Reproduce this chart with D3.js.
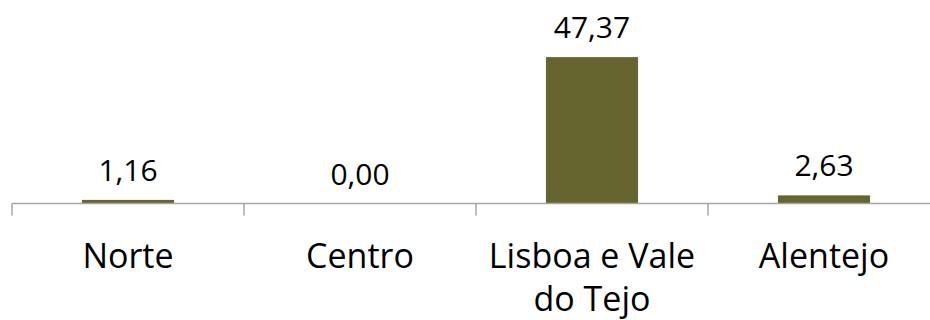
<!DOCTYPE html>
<html>
<head>
<meta charset="utf-8">
<script src="https://cdn.jsdelivr.net/npm/d3@7"></script>
<style>
  html, body { margin: 0; padding: 0; background: #fff; }
  svg { display: block; }
  text { font-family: "Open Sans", "Noto Sans", sans-serif; fill: #000; }
</style>
</head>
<body>
<svg id="chart" width="930" height="320"></svg>
<script>
// Regional values (percent)
const regions = ["Norte", "Centro", "Lisboa e Vale do Tejo", "Alentejo"];
const regionLines = [["Norte"], ["Centro"], ["Lisboa e Vale", "do Tejo"], ["Alentejo"]];
const values = [1.16, 0.00, 47.37, 2.63];
const valueLabels = ["1,16", "0,00", "47,37", "2,63"];

const svg = d3.select("#chart");
const left = 12, right = 940, baseY = 203.5;

const x = d3.scaleBand()
  .domain(regions)
  .range([left, right])
  .paddingInner(0.603)
  .paddingOuter(0.3015);

const y = d3.scaleLinear().domain([0, 50]).range([baseY, 49]);

// bars
svg.selectAll("rect.bar")
  .data(values)
  .join("rect")
  .attr("class", "bar")
  .attr("x", (d, i) => x(regions[i]))
  .attr("width", x.bandwidth())
  .attr("y", d => y(d))
  .attr("height", d => baseY - y(d))
  .attr("fill", "#66642f");

// category axis line and tick marks between categories
const step = x.step();
const tickXs = d3.range(regions.length + 1).map(i => left + i * step);
svg.append("line")
  .attr("x1", left).attr("x2", right)
  .attr("y1", baseY).attr("y2", baseY)
  .attr("stroke", "#a6a6a6").attr("stroke-width", 1.5);
svg.selectAll("line.tick")
  .data(tickXs)
  .join("line")
  .attr("class", "tick")
  .attr("x1", d => d).attr("x2", d => d)
  .attr("y1", baseY).attr("y2", baseY + 12)
  .attr("stroke", "#a6a6a6").attr("stroke-width", 1.5);

// value labels
svg.selectAll("text.val")
  .data(values)
  .join("text")
  .attr("class", "val")
  .attr("x", (d, i) => x(regions[i]) + x.bandwidth() / 2)
  .attr("y", d => y(d) - 19)
  .attr("text-anchor", "middle")
  .attr("font-size", 30)
  .text((d, i) => valueLabels[i]);

// category labels
const cat = svg.selectAll("text.cat")
  .data(regions)
  .join("text")
  .attr("class", "cat")
  .attr("text-anchor", "middle")
  .attr("font-size", 34)
  .attr("x", d => x(d) + x.bandwidth() / 2)
  .attr("y", 268);
cat.selectAll("tspan")
  .data((d, i) => regionLines[i])
  .join("tspan")
  .attr("x", function () { return d3.select(this.parentNode).attr("x"); })
  .attr("dy", (d, j) => j === 0 ? 0 : 43)
  .text(d => d);
</script>
</body>
</html>
